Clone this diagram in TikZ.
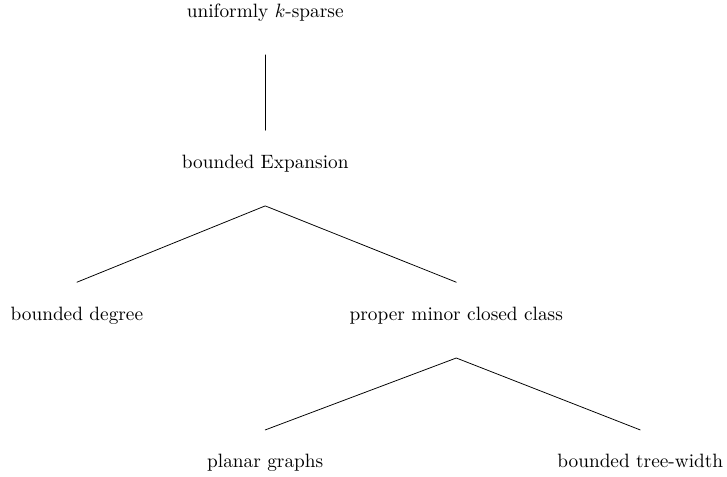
\documentclass[tikz,border=0pt]{standalone}
\begin{document}
\begin{tikzpicture}[line join=round, line cap=round, every node/.style={anchor=base, inner sep=0pt}]
			\def\g{0.69} % gap between baseline and line end
			\useasboundingbox (0,0) rectangle (13.24,-8.67);
			\node (root) at (4.83,-0.31) {uniformly $k$-sparse};
			\node (exp) at (4.83,-3.06) {bounded Expansion};
			\node (deg) at (1.40,-5.83) {bounded degree};
			\node (minor) at (8.31,-5.83) {proper minor closed class};
			\node (planar) at (4.83,-8.52) {planar graphs};
			\node (tw) at (11.66,-8.52) {bounded tree-width};
			\draw ([yshift=-\g cm]root.base)--([yshift=\g cm]exp.base);
			\draw ([yshift=\g cm]deg.base)--([yshift=-\g cm]exp.base)--([yshift=\g cm]minor.base);
			\draw ([yshift=\g cm]planar.base)--([yshift=-\g cm]minor.base)--([yshift=\g cm]tw.base);
\end{tikzpicture}
\end{document}
